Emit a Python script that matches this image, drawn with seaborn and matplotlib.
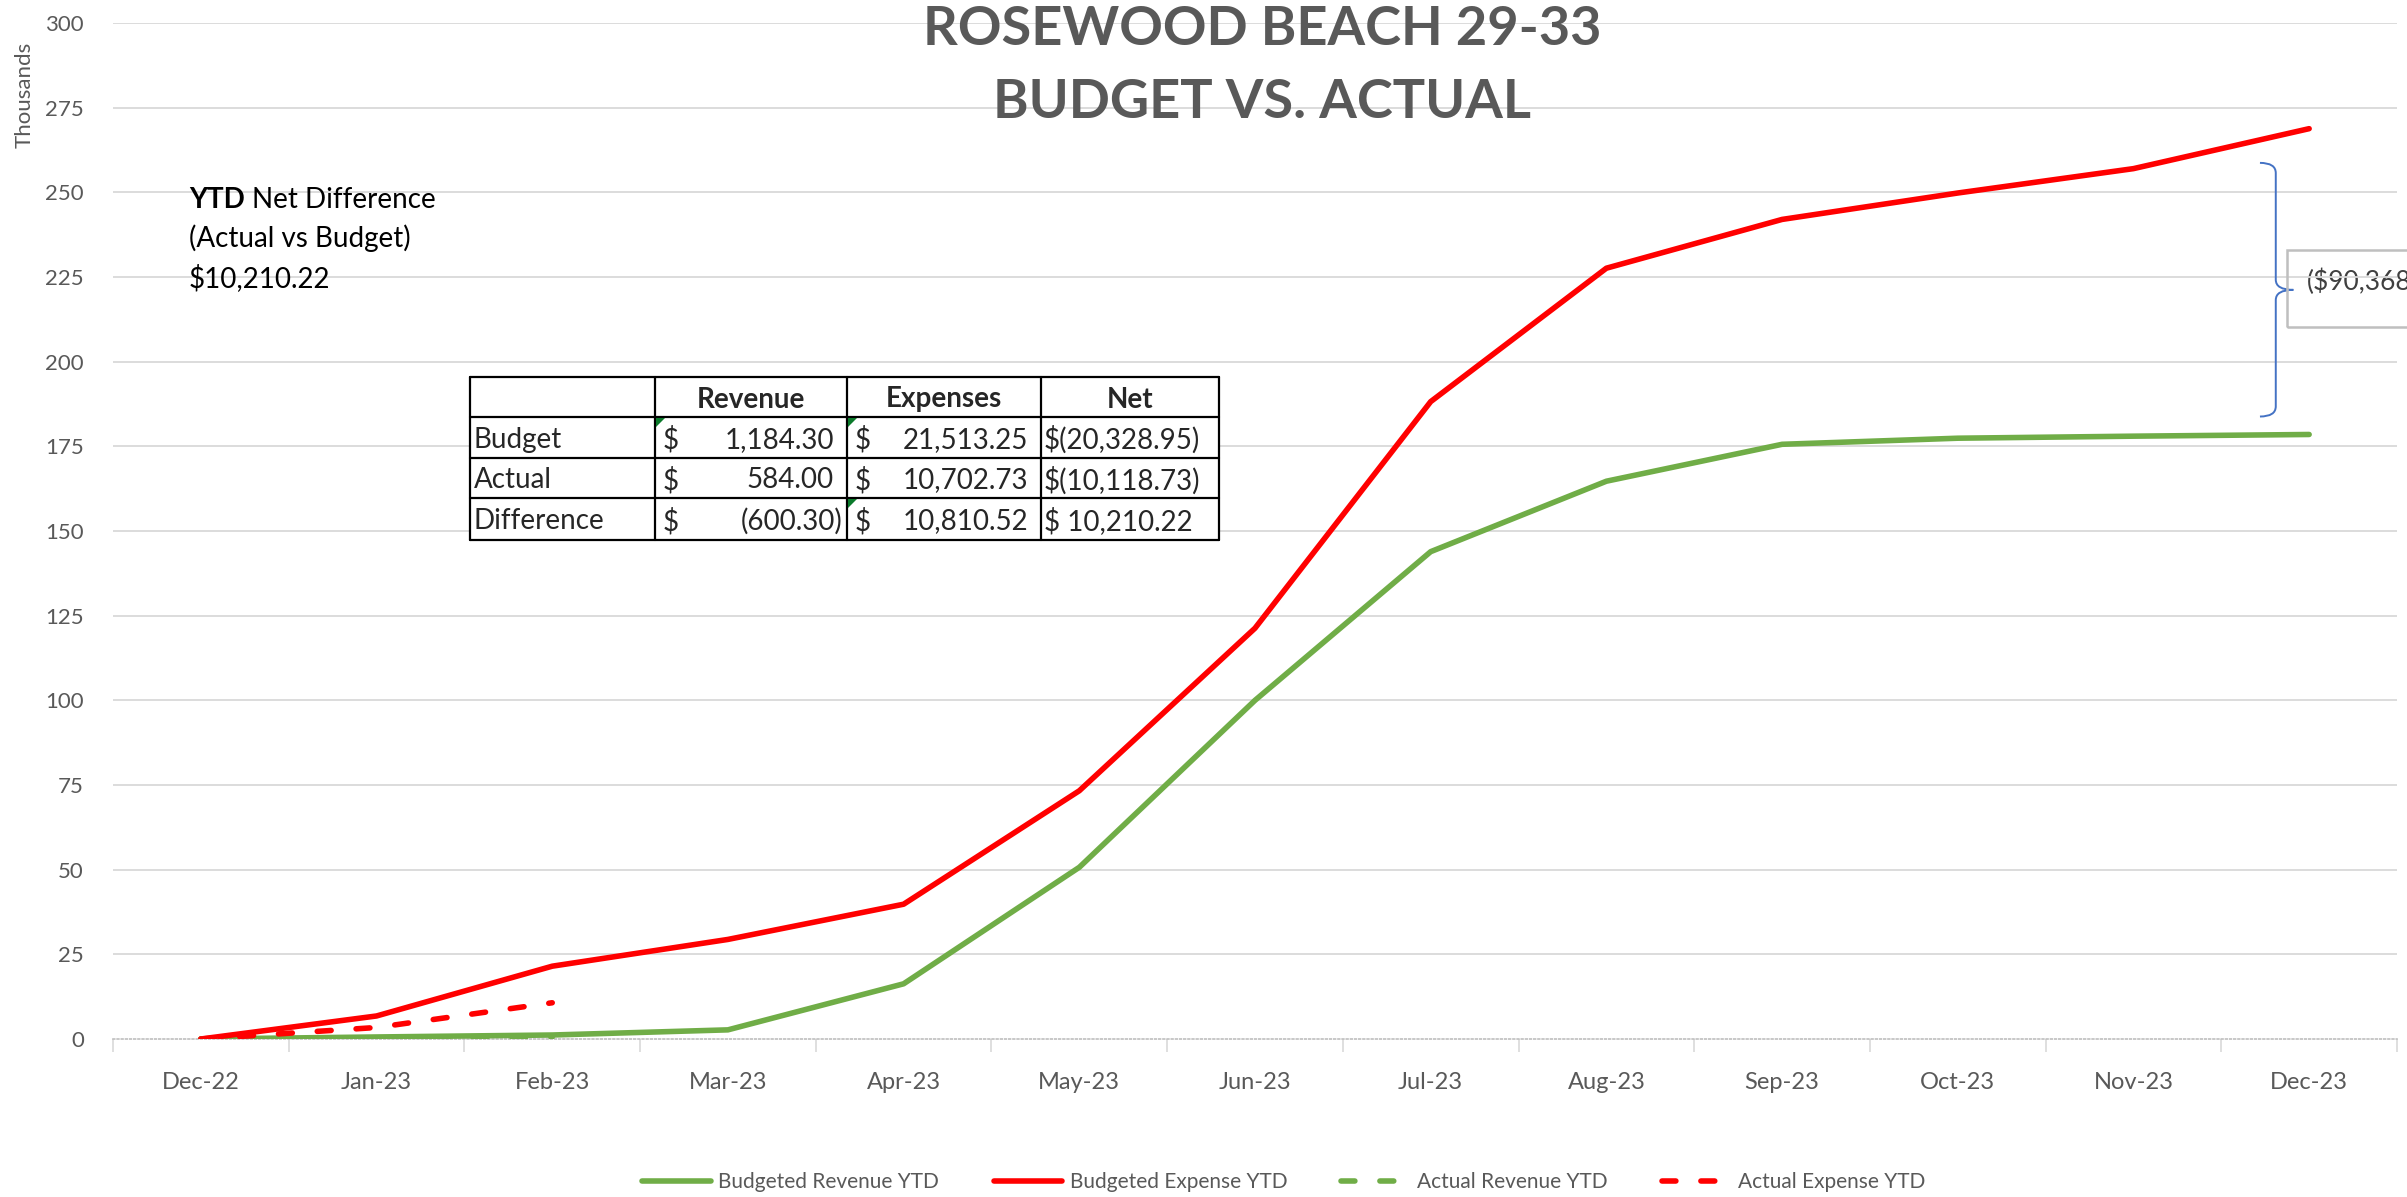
import matplotlib
matplotlib.use("Agg")
import matplotlib.pyplot as plt
import seaborn as sns
from matplotlib.lines import Line2D
from matplotlib.patches import Rectangle, Polygon, PathPatch
from matplotlib.path import Path

# -----------------------------------------------
# Datos del grafico (miles de USD, acumulado del año)
meses = ["Dec-22", "Jan-23", "Feb-23", "Mar-23", "Apr-23", "May-23", "Jun-23",
         "Jul-23", "Aug-23", "Sep-23", "Oct-23", "Nov-23", "Dec-23"]
ingresos_presupuesto = [0.0, 0.6, 1.18, 2.7, 16.3, 50.7, 100.0, 143.9, 164.7, 175.6, 177.4, 178.0, 178.5]
gastos_presupuesto = [0.0, 6.8, 21.5, 29.4, 39.8, 73.3, 121.3, 188.2, 227.6, 242.0, 249.8, 257.0, 268.8]
ingresos_reales = [0.0, 0.3, 0.58]
gastos_reales = [0.0, 3.4, 10.7]

nombres_series = ["Budgeted Revenue YTD", "Budgeted Expense YTD", "Actual Revenue YTD", "Actual Expense YTD"]
ticks_y = list(range(0, 301, 25))

# Tabla resumen
filas_tabla = ["Budget", "Actual", "Difference"]
columnas_tabla = ["Revenue", "Expenses", "Net"]
tabla_revenue = ["1,184.30", "584.00", "(600.30)"]
tabla_expenses = ["21,513.25", "10,702.73", "10,810.52"]
tabla_net = ["$(20,328.95)", "$(10,118.73)", "$ 10,210.22"]

titulo = ["ROSEWOOD BEACH 29-33", "BUDGET VS. ACTUAL"]
texto_ytd = ["YTD", "Net Difference", "(Actual vs Budget)", "$10,210.22"]
texto_brecha = "($90,368"

VERDE = "#70AD47"
ROJO = "#FF0000"
GRIS_TEXTO = "#595959"
GRIS_GRILLA = "#D9D9D9"
AZUL = "#4472C4"
GUIONES = (0, (2.5, 4.5))

W, H = 2407, 1197


def fx(px):
    return px / W


def fy(py):
    return 1 - py / H


sns.set_theme(style="white")
plt.rcParams["font.family"] = ["Lato", "DejaVu Sans"]

fig = plt.figure(figsize=(W / 100, H / 100), dpi=100)
ax = fig.add_axes([fx(113), fy(1039), (2397 - 113) / W, (1039 - 23) / H])

# -----------------------------------------------
# Lineas
x = list(range(len(meses)))
estilo = dict(linewidth=4, solid_capstyle="round", solid_joinstyle="round",
              dash_capstyle="round", legend=False)
sns.lineplot(x=x, y=ingresos_presupuesto, ax=ax, color=VERDE, zorder=3, **estilo)
sns.lineplot(x=x, y=gastos_presupuesto, ax=ax, color=ROJO, zorder=3, **estilo)
sns.lineplot(x=x[:len(ingresos_reales)], y=ingresos_reales, ax=ax, color=VERDE,
             linestyle=GUIONES, zorder=4, **estilo)
sns.lineplot(x=x[:len(gastos_reales)], y=gastos_reales, ax=ax, color=ROJO,
             linestyle=GUIONES, zorder=4, **estilo)

# -----------------------------------------------
# Ejes
ax.set_xlim(-0.5, len(meses) - 0.5)
ax.set_ylim(0, 300)
ax.set_xticks(x)
ax.set_xticklabels(meses)
ax.set_xticks([i - 0.5 for i in range(len(meses) + 1)], minor=True)
ax.set_yticks(ticks_y)
ax.set_xlabel("")
ax.set_ylabel("")
ax.tick_params(axis="x", which="major", length=0, pad=24, labelsize=17, labelcolor=GRIS_TEXTO)
ax.tick_params(axis="x", which="minor", bottom=True, length=9, width=1.2, color=GRIS_GRILLA)
ax.tick_params(axis="y", length=0, pad=21, labelsize=16, labelcolor=GRIS_TEXTO)

for lado in ["top", "right", "left"]:
    ax.spines[lado].set_visible(False)
ax.spines["bottom"].set_color("#BFBFBF")
ax.spines["bottom"].set_linewidth(1.2)
ax.spines["bottom"].set_linestyle((0, (1, 1.5)))

ax.set_axisbelow(True)
ax.yaxis.grid(True, color=GRIS_GRILLA, linewidth=1.3)
ax.get_ygridlines()[0].set_visible(False)

fig.text(fx(25), fy(95), "Thousands", rotation=90, ha="center", va="center",
         fontsize=16, color=GRIS_TEXTO)

# -----------------------------------------------
# Titulo
fig.text(fx(1262), fy(45), titulo[0], ha="center", va="baseline", fontsize=39,
         fontweight="bold", color=GRIS_TEXTO)
fig.text(fx(1262), fy(118), titulo[1], ha="center", va="baseline", fontsize=39,
         fontweight="bold", color=GRIS_TEXTO)

# -----------------------------------------------
# Texto de diferencia neta
t1 = fig.text(fx(189), fy(208), texto_ytd[0], ha="left", va="baseline", fontsize=20,
              fontweight="bold", color="black")
ax.annotate(texto_ytd[1], xy=(1, 0), xycoords=t1, xytext=(5, 0), textcoords="offset points",
            ha="left", va="bottom", fontsize=20, color="black", annotation_clip=False)
fig.text(fx(189), fy(247), texto_ytd[2], ha="left", va="baseline", fontsize=20, color="black")
fig.text(fx(189), fy(287), texto_ytd[3], ha="left", va="baseline", fontsize=20, color="black")

# -----------------------------------------------
# Tabla resumen
bordes_x = [470, 655, 847, 1041, 1219]
bordes_y = [377, 417, 458, 498, 540]
fig.add_artist(Rectangle((fx(bordes_x[0]), fy(bordes_y[-1])),
                         fx(bordes_x[-1]) - fx(bordes_x[0]), fy(bordes_y[0]) - fy(bordes_y[-1]),
                         transform=fig.transFigure, facecolor="white", edgecolor="none", zorder=5))
for bx in bordes_x:
    fig.add_artist(Line2D([fx(bx), fx(bx)], [fy(bordes_y[0]), fy(bordes_y[-1])],
                          transform=fig.transFigure, color="black", lw=1.6, zorder=6))
for by in bordes_y:
    fig.add_artist(Line2D([fx(bordes_x[0]), fx(bordes_x[-1])], [fy(by), fy(by)],
                          transform=fig.transFigure, color="black", lw=1.6, zorder=6))


def centro_fila(i):
    return fy((bordes_y[i] + bordes_y[i + 1]) / 2)


tam_tabla = 20
for j, col in enumerate(columnas_tabla):
    fig.text(fx((bordes_x[j + 1] + bordes_x[j + 2]) / 2), centro_fila(0), col, ha="center",
             va="center_baseline", fontsize=tam_tabla, fontweight="bold", zorder=7)

for i, fila in enumerate(filas_tabla):
    cy = centro_fila(i + 1)
    fig.text(fx(bordes_x[0] + 4), cy, fila, ha="left", va="center_baseline", fontsize=tam_tabla, zorder=7)
    for j, valores in enumerate([tabla_revenue, tabla_expenses]):
        izq, der = bordes_x[j + 1], bordes_x[j + 2]
        valor = valores[i]
        fig.text(fx(izq + 8), cy, "$", ha="left", va="center_baseline", fontsize=tam_tabla, zorder=7)
        desplaz = 5 if valor.startswith("(") else 13
        fig.text(fx(der - desplaz), cy, valor, ha="right", va="center_baseline", fontsize=tam_tabla, zorder=7)
    fig.text(fx(bordes_x[3] + 3), cy, tabla_net[i], ha="left", va="center_baseline", fontsize=tam_tabla, zorder=7)

# triangulitos verdes de Excel
for (cx, cy) in [(655, 417), (847, 417), (847, 498)]:
    fig.add_artist(Polygon([(fx(cx + 1), fy(cy + 1)), (fx(cx + 10), fy(cy + 1)), (fx(cx + 1), fy(cy + 10))],
                           closed=True, transform=fig.transFigure, facecolor="#0B7A2B",
                           edgecolor="none", zorder=8))

# -----------------------------------------------
# Llave con la brecha entre presupuesto de gastos e ingresos
xl, xs, xt = 11.72, 11.81, 11.91
ytop, ymid, ybot, r = 258.7, 221.2, 183.8, 3.0
vertices = [(xl, ytop), (xs, ytop), (xs, ytop - r),
            (xs, ymid + r), (xs, ymid), (xt, ymid),
            (xs, ymid), (xs, ymid - r),
            (xs, ybot + r), (xs, ybot), (xl, ybot)]
codigos = [Path.MOVETO, Path.CURVE3, Path.CURVE3,
           Path.LINETO, Path.CURVE3, Path.CURVE3,
           Path.CURVE3, Path.CURVE3,
           Path.LINETO, Path.CURVE3, Path.CURVE3]
ax.add_patch(PathPatch(Path(vertices, codigos), facecolor="none", edgecolor=AZUL,
                       lw=1.4, clip_on=False, zorder=5))

fig.add_artist(Rectangle((fx(2287), fy(327)), fx(2440) - fx(2287), fy(250) - fy(327),
                         transform=fig.transFigure, facecolor="none", edgecolor="#BFBFBF",
                         lw=1.8, zorder=5))
ax.text(11.985, (1039 - 290) / 3.387, texto_brecha, fontsize=19, color="#404040",
        ha="left", va="baseline", zorder=0.3, clip_on=False)

# -----------------------------------------------
# Leyenda
manejadores = [
    Line2D([0], [0], color=VERDE, lw=4, solid_capstyle="round"),
    Line2D([0], [0], color=ROJO, lw=4, solid_capstyle="round"),
    Line2D([0], [0], color=VERDE, lw=4, linestyle=GUIONES, dash_capstyle="round"),
    Line2D([0], [0], color=ROJO, lw=4, linestyle=GUIONES, dash_capstyle="round"),
]
fig.legend(manejadores, nombres_series, loc="center", bbox_to_anchor=(fx(1284), fy(1182)),
           ncol=4, frameon=False, fontsize=15, handlelength=3.3, handletextpad=0.35,
           columnspacing=2.6, labelcolor=GRIS_TEXTO)

fig.savefig("out.png", dpi=100)
plt.close(fig)
